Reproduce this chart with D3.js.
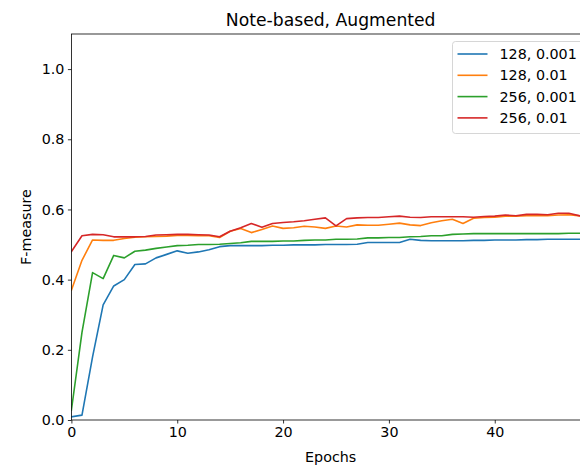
<!DOCTYPE html>
<html>
<head>
<meta charset="utf-8">
<script src="https://cdn.jsdelivr.net/npm/d3@7"></script>
<style>
  body { margin: 0; background: #fff; }
  svg { display: block; font-family: "DejaVu Sans", sans-serif; }
</style>
</head>
<body>
<svg width="580" height="465"></svg>
<script>
// values, one per epoch
epochs = d3.range(0, 49);

names = ["128, 0.001", "128, 0.01", "256, 0.001", "256, 0.01"];
colors = ["#1f77b4", "#ff7f0e", "#2ca02c", "#d62728"];

blue = [0.009, 0.014, 0.18, 0.328, 0.382, 0.40, 0.443, 0.445, 0.462, 0.472,
        0.482, 0.475, 0.479, 0.485, 0.494, 0.497, 0.497, 0.497, 0.497, 0.498,
        0.498, 0.499, 0.499, 0.499, 0.5, 0.5, 0.5, 0.501, 0.506, 0.506,
        0.506, 0.506, 0.515, 0.512, 0.511, 0.511, 0.511, 0.511, 0.512, 0.512,
        0.513, 0.513, 0.513, 0.514, 0.514, 0.515, 0.515, 0.515, 0.515];
orange = [0.37, 0.455, 0.513, 0.512, 0.512, 0.517, 0.521, 0.522, 0.523, 0.524,
          0.526, 0.526, 0.525, 0.525, 0.52, 0.538, 0.546, 0.534, 0.543, 0.553,
          0.546, 0.548, 0.552, 0.55, 0.546, 0.553, 0.55, 0.556, 0.555, 0.555,
          0.558, 0.561, 0.556, 0.554, 0.562, 0.568, 0.572, 0.56, 0.575, 0.577,
          0.578, 0.581, 0.581, 0.582, 0.582, 0.582, 0.584, 0.585, 0.582];
green = [0.028, 0.25, 0.42, 0.403, 0.469, 0.462, 0.481, 0.484, 0.489, 0.493,
         0.497, 0.498, 0.5, 0.5, 0.501, 0.503, 0.505, 0.509, 0.509, 0.509,
         0.51, 0.51, 0.512, 0.513, 0.513, 0.515, 0.515, 0.516, 0.519, 0.519,
         0.52, 0.52, 0.522, 0.523, 0.525, 0.525, 0.529, 0.53, 0.531, 0.531,
         0.531, 0.531, 0.531, 0.531, 0.531, 0.531, 0.531, 0.532, 0.532];
red = [0.48, 0.525, 0.529, 0.528, 0.522, 0.522, 0.522, 0.523, 0.527, 0.528,
       0.529, 0.529, 0.528, 0.527, 0.522, 0.538, 0.548, 0.56, 0.549, 0.56,
       0.563, 0.565, 0.568, 0.572, 0.576, 0.553, 0.574, 0.576, 0.577, 0.577,
       0.579, 0.581, 0.578, 0.577, 0.579, 0.579, 0.579, 0.579, 0.578, 0.58,
       0.581, 0.584, 0.582, 0.586, 0.586, 0.585, 0.589, 0.589, 0.582];

xTicks = [0, 10, 20, 30, 40];
yTicks = [0.0, 0.2, 0.4, 0.6, 0.8, 1.0];

series = [blue, orange, green, red];

const margin = {left: 71.4, top: 34, right: 590, bottom: 420};

const svg = d3.select("svg");

x = d3.scaleLinear().domain([0, 49]).range([margin.left, margin.right]);
y = d3.scaleLinear().domain([0, 1.1]).range([margin.bottom, margin.top]);

svg.append("clipPath").attr("id", "clip")
  .append("rect")
    .attr("x", margin.left).attr("y", margin.top)
    .attr("width", margin.right - margin.left)
    .attr("height", margin.bottom - margin.top);

const line = d3.line()
    .x((d, i) => x(epochs[i]))
    .y(d => y(d));

svg.append("g")
    .attr("clip-path", "url(#clip)")
  .selectAll("path")
  .data(series)
  .join("path")
    .attr("fill", "none")
    .attr("stroke", (d, i) => colors[i])
    .attr("stroke-width", 1.6)
    .attr("stroke-linejoin", "round")
    .attr("stroke-linecap", "square")
    .attr("d", line);

// axes, matplotlib look
const xAxis = svg.append("g")
    .attr("transform", `translate(0,${margin.bottom})`)
    .call(d3.axisBottom(x).tickValues(xTicks).tickFormat(d3.format("d"))
      .tickSizeInner(3.5).tickSizeOuter(0).tickPadding(3.5));
const yAxis = svg.append("g")
    .attr("transform", `translate(${margin.left},0)`)
    .call(d3.axisLeft(y).tickValues(yTicks).tickFormat(d3.format(".1f"))
      .tickSizeInner(3.5).tickSizeOuter(0).tickPadding(3.5));

[xAxis, yAxis].forEach(g => {
  g.select(".domain").remove();
  g.selectAll("line").attr("stroke", "#000").attr("stroke-width", 0.8);
  g.selectAll("text")
    .attr("fill", "#000")
    .style("font-size", "14.3px")
    .style("font-family", "DejaVu Sans, sans-serif");
});

// spines
svg.append("rect")
    .attr("x", margin.left).attr("y", margin.top)
    .attr("width", margin.right - margin.left)
    .attr("height", margin.bottom - margin.top)
    .attr("fill", "none")
    .attr("stroke", "#000")
    .attr("stroke-width", 0.8);

svg.append("text")
    .attr("x", (margin.left + margin.right) / 2)
    .attr("y", 26)
    .attr("text-anchor", "middle")
    .style("font-size", "17.2px")
    .text("Note-based, Augmented");

svg.append("text")
    .attr("x", (margin.left + margin.right) / 2)
    .attr("y", 462)
    .attr("text-anchor", "middle")
    .style("font-size", "14.3px")
    .text("Epochs");

svg.append("text")
    .attr("transform", `translate(31,${(margin.top + margin.bottom) / 2}) rotate(-90)`)
    .attr("text-anchor", "middle")
    .style("font-size", "14.3px")
    .text("F-measure");

// legend
const legend = svg.append("g").attr("transform", "translate(452.5,41.5)");
legend.append("rect")
    .attr("width", 134).attr("height", 92)
    .attr("rx", 3)
    .attr("fill", "#fff").attr("fill-opacity", 0.8)
    .attr("stroke", "#ccc").attr("stroke-width", 0.8);

const item = legend.selectAll("g.item")
  .data(names)
  .join("g")
    .attr("class", "item")
    .attr("transform", (d, i) => `translate(0,${12.5 + i * 21.3})`);
item.append("line")
    .attr("x1", 5).attr("x2", 35)
    .attr("stroke", (d, i) => colors[i])
    .attr("stroke-width", 1.6);
item.append("text")
    .attr("x", 47)
    .attr("dy", "0.35em")
    .style("font-size", "14.3px")
    .text(d => d);
</script>
</body>
</html>
